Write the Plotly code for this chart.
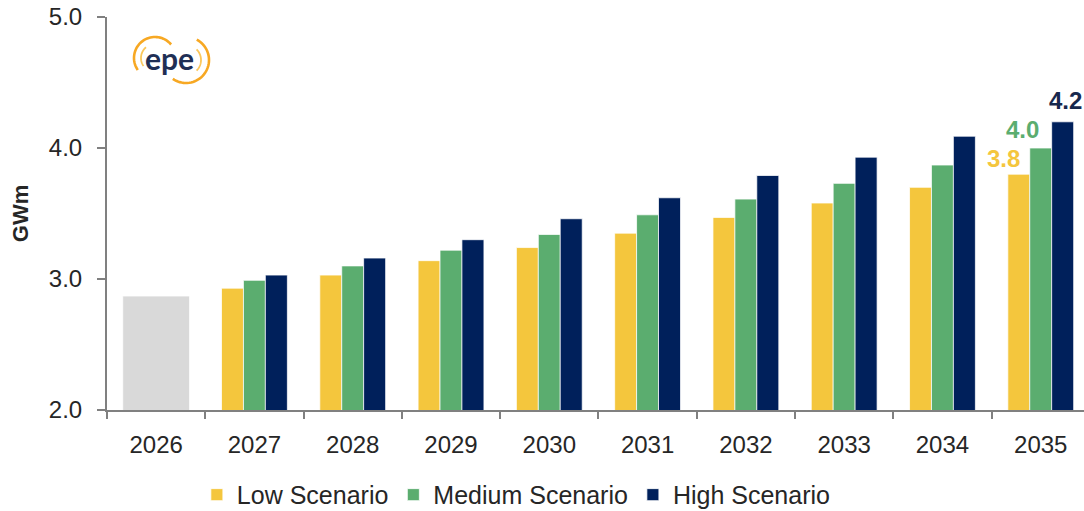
import numpy as np
import plotly.graph_objects as go

# Annual values (GWm)
years = ["2026", "2027", "2028", "2029", "2030", "2031", "2032", "2033", "2034", "2035"]
base_year = ["2026"]
base_value = [2.87]
future_years = years[1:]
low = [2.93, 3.03, 3.14, 3.24, 3.35, 3.47, 3.58, 3.70, 3.8]
medium = [2.99, 3.10, 3.22, 3.34, 3.49, 3.61, 3.73, 3.87, 4.0]
high = [3.03, 3.16, 3.30, 3.46, 3.62, 3.79, 3.93, 4.09, 4.2]
y_ticks = [2.0, 3.0, 4.0, 5.0]

GRAY = "#D9D9D9"
YELLOW = "#F4C63D"
GREEN = "#5BAD6F"
NAVY = "#00205B"
AXIS = "#808080"
TEXT = "#262626"

# plot-area geometry in pixels (used to place the logo in paper units)
W, H = 1084, 511
ML, MR, MT, MB = 107, 0, 17, 101
PW, PH = W - ML - MR, H - MT - MB


def px(x, y):
    return (x - ML) / PW, (H - MB - y) / PH


def arc_path(cx, cy, r, a0, a1, n=40):
    """Polyline arc around a pixel centre, angles in degrees (counter-clockwise, y up)."""
    pts = []
    for a in np.linspace(np.radians(a0), np.radians(a1), n):
        x, y = px(cx + r * np.cos(a), cy - r * np.sin(a))
        pts.append(f"{x:.5f},{y:.5f}")
    return "M " + " L ".join(pts)


fig = go.Figure()

bar_line = dict(color="white", width=0.75)

fig.add_trace(go.Bar(
    x=base_year, y=base_value, marker=dict(color=GRAY, line=bar_line),
    width=0.68, offset=-0.34, showlegend=False, hoverinfo="skip",
))
for name, vals, col, off in [
    ("Low Scenario", low, YELLOW, -0.335),
    ("Medium Scenario", medium, GREEN, -0.112),
    ("High Scenario", high, NAVY, 0.111),
]:
    fig.add_trace(go.Bar(
        x=future_years, y=vals, name=name,
        marker=dict(color=col, line=bar_line),
        width=0.224, offset=off,
    ))

# value labels on the last year
last = len(years) - 1
for vals, col, dx, dy in [
    (low, "#F4C63D", -37, 16),
    (medium, "#5BAD6F", -18, 19),
    (high, "#17284D", 25, 21),
]:
    v = vals[-1]
    fig.add_annotation(
        x=last, y=v, xref="x", yref="y", text=f"<b>{v:.1f}</b>",
        showarrow=False, xshift=dx, yshift=dy, xanchor="center", yanchor="middle",
        font=dict(family="Liberation Sans, Arial", size=24, color=col),
    )

# epe logo: word mark with two open orange rings
lx, ly = px(169, 58)
fig.add_annotation(
    x=lx, y=ly, xref="paper", yref="paper", xanchor="center", yanchor="middle",
    text="epe", showarrow=False,
    font=dict(family="Lato, Open Sans", size=30, color="#1F2F55", weight=700),
)
rings = [
    (155, 58, 21, 40, 215, "#F7A823", 2.6),
    (155, 58, 14, 130, 215, "#FBC75A", 1.8),
    (186, 60, 23, -125, 62, "#F7A823", 2.6),
    (186, 60, 15, -45, 45, "#FBC75A", 1.8),
]
for cx, cy, r, a0, a1, col, w in rings:
    fig.add_shape(type="path", path=arc_path(cx, cy, r, a0, a1), xref="paper", yref="paper",
                  line=dict(color=col, width=w))

fig.update_layout(
    width=W, height=H,
    margin=dict(l=ML, r=MR, t=MT, b=MB, autoexpand=False),
    plot_bgcolor="white", paper_bgcolor="white",
    barmode="overlay",
    font=dict(family="Liberation Sans, Arial", color=TEXT),
    legend=dict(
        orientation="h", x=0.419, xanchor="center", y=-0.216, yanchor="middle",
        font=dict(size=25, color=TEXT), traceorder="normal",
    ),
    xaxis=dict(
        type="category", categoryorder="array", categoryarray=years,
        range=[-0.5, 9.44], showline=True, linecolor=AXIS, linewidth=2,
        ticks="outside", tickson="boundaries", ticklen=7, tickwidth=2, tickcolor=AXIS,
        showgrid=False, tickfont=dict(size=24, color=TEXT), ticklabelstandoff=12,
        automargin=False,
    ),
    yaxis=dict(
        range=[2.0, 5.0], tickvals=y_ticks, tickformat=".1f",
        showline=True, linecolor=AXIS, linewidth=2,
        ticks="outside", ticklen=8, tickwidth=2, tickcolor=AXIS,
        showgrid=False, zeroline=False,
        tickfont=dict(size=24, color=TEXT), ticklabelstandoff=10,
        title=dict(text="<b>GWm</b>", font=dict(size=22, color=TEXT), standoff=14),
        automargin=False,
    ),
)

fig.write_html("out.html")
